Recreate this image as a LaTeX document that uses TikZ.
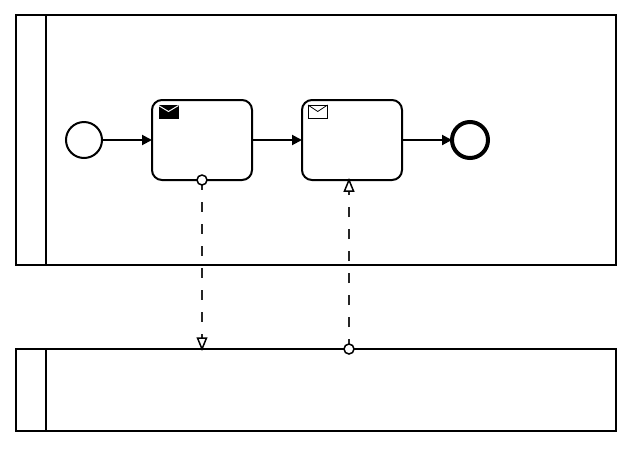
\documentclass[tikz,border=0pt]{standalone}
\usetikzlibrary{arrows.meta}
\tikzset{
  x=1pt,y=-1pt,
  every node/.style={inner sep=0pt,outer sep=0pt},
  poolbox/.style={draw=black,line width=2pt,fill=white,anchor=north west},
  taskbox/.style={draw=black,line width=2pt,fill=white,rounded corners=10pt,minimum width=100pt,minimum height=80pt},
  startev/.style={draw=black,line width=2pt,fill=white,circle,minimum size=36pt},
  endev/.style={draw=black,line width=4pt,fill=white,circle,minimum size=36pt},
  flow/.style={draw=black,line width=2pt,-{Triangle[length=10pt,width=10pt,fill=black]}},
  msgflow/.style={draw=black!85,line width=1.5pt,dash pattern=on 10pt off 12pt},
  msgtip/.style={draw=black,line width=1.5pt,fill=white,line join=miter},
  msgdot/.style={draw=black,line width=1.5pt,fill=white,circle,minimum size=10pt},
  envlop/.style={draw=black,line width=0.8pt,line join=miter}
}
\begin{document}
\begin{tikzpicture}
\useasboundingbox (0,0) rectangle (637,451);
\fill[white] (0,0) rectangle (637,451);
% pools
\node[poolbox,minimum width=600pt,minimum height=250pt] (poolA) at (16,15) {};
\node[poolbox,minimum width=600pt,minimum height=82pt] (poolB) at (16,349) {};
\coordinate (hdA) at (46,15);
\coordinate (hdB) at (46,349);
\draw[line width=2pt] (hdA) -- (hdA |- poolA.south);
\draw[line width=2pt] (hdB) -- (hdB |- poolB.south);
% events and tasks
\node[startev] (start) at (84,140) {};
\node[taskbox] (send) at (202,140) {};
\node[taskbox] (recv) at (352,140) {};
\node[endev] (end) at (470,140) {};
% sequence flows
\draw[flow] (start) -- (send);
\draw[flow] (send) -- (recv);
\draw[flow] (recv) -- (end);
% envelope icons
\fill[black] (158.5,105) rectangle (178.5,118.5);
\draw[white,line width=1pt] (158.5,105.5) -- (168.5,111.5) -- (178.5,105.5);
\draw[envlop] (308,105) rectangle (327.5,118.5);
\draw[envlop] (308,105) -- (317.75,111.5) -- (327.5,105);
% message flow 1
\coordinate (dotAc) at (send.south);
\coordinate (tipA) at (poolB.north -| dotAc);
\coordinate (baseA) at ([shift={(0,-11)}]tipA);
\draw[msgflow] (dotAc) -- (baseA);
\node[msgdot] (dotA) at (dotAc) {};
\draw[msgtip] (tipA) -- ([shift={(-4.5,-11)}]tipA) -- ([shift={(4.5,-11)}]tipA) -- cycle;
% message flow 2
\coordinate (dotBc) at (349,349);
\coordinate (tipB) at (recv.south -| dotBc);
\coordinate (baseB) at ([shift={(0,11)}]tipB);
\draw[msgflow] (dotBc) -- (baseB);
\node[msgdot] (dotB) at (dotBc) {};
\draw[msgtip] (tipB) -- ([shift={(-4.5,11)}]tipB) -- ([shift={(4.5,11)}]tipB) -- cycle;
\end{tikzpicture}
\end{document}
